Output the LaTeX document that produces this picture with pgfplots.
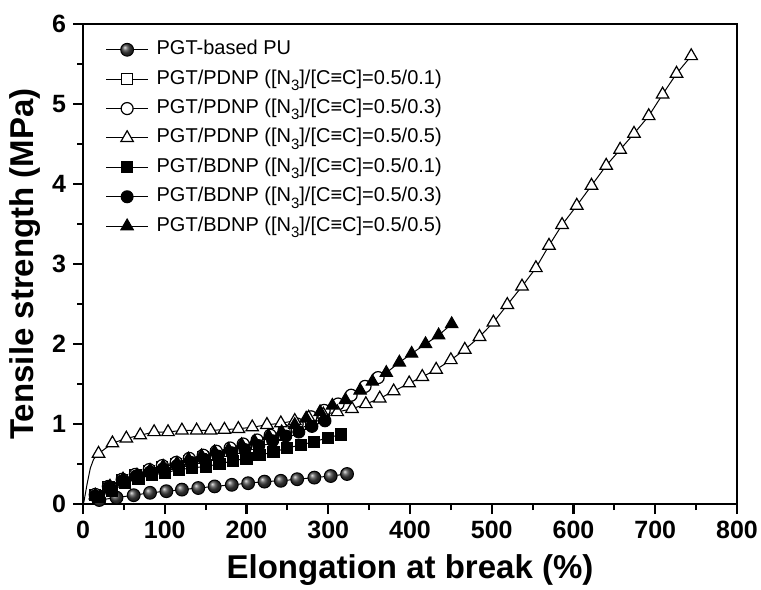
\documentclass[border=0pt]{standalone}
\usepackage{fontspec}
\setmainfont{Liberation Sans}
\usepackage{pgfplots}
\pgfplotsset{compat=1.18}
\newcommand{\sub}{\raisebox{-0.6ex}{\fontsize{7.5}{8}\selectfont 3}}
\begin{document}
\begin{tikzpicture}
\begin{axis}[
  name=ax,
  width=327pt, height=240pt, scale only axis,
  xmin=0, xmax=800, ymin=0, ymax=6,
  xtick={0,100,...,800}, ytick={0,1,...,6},
  minor x tick num=1, minor y tick num=1,
  tick align=outside, xtick pos=left, ytick pos=left,
  major tick length=5pt, minor tick length=3pt,
  axis line style={line width=1.3pt},
  every major tick/.style={black, line width=1.1pt},
  every minor tick/.style={black, line width=1.1pt},
  tick label style={font=\fontsize{12.5}{14}\selectfont\bfseries},
  /pgf/number format/assume math mode=true,
  xlabel={Elongation at break (\%)},
  ylabel={Tensile strength (MPa)},
  label style={font=\fontsize{16.5}{19}\selectfont\bfseries},
  xlabel style={at={(axis description cs:0.5,-0.137)}, anchor=center},
  ylabel style={at={(axis description cs:-0.089,0.5)}, anchor=center},
  legend cell align=left,
  legend style={draw=none, fill=none, inner sep=0pt, row sep=4.7pt, column sep=4pt,
    at={(axis description cs:0.034,0.968)}, anchor=north west,
    font=\fontsize{10}{12}\selectfont,
    nodes={inner sep=0pt, text height=7.5pt, text depth=2.5pt}},
  legend image code/.code={\draw[mark repeat=2,mark phase=2,#1] plot coordinates {(0pt,0pt) (10.5pt,0pt) (21pt,0pt)};},
]
% PGT-based PU
\addplot[black, line width=0.5pt, mark=ball, mark size=3.2pt, mark options={ball color=black!75}] coordinates {
(20,0.05)(41,0.08)(62,0.11)(82,0.14)(102,0.16)(121,0.18)(141,0.20)(161,0.22)(182,0.24)(202,0.26)(222,0.28)(242,0.29)(262,0.31)(283,0.33)(303,0.35)(323,0.375)};
\addlegendentry{PGT-based PU}
% PGT/PDNP 0.5/0.1 (open squares)
\addplot[black, line width=0.5pt, mark=square*, mark size=2.8pt, mark options={fill=white, line width=0.6pt}] coordinates {
(15,0.11)(31,0.21)(48,0.30)(64,0.36)(81,0.41)(97,0.46)(114,0.50)(130,0.54)(147,0.58)(163,0.62)(180,0.66)(196,0.70)(213,0.75)(229,0.81)(246,0.87)(262,0.93)(279,1.00)(295,1.08)};
\addlegendentry{PGT/PDNP ([N\sub]/[C≡C]=0.5/0.1)}
% PGT/PDNP 0.5/0.3 (open circles)
\addplot[black, line width=0.5pt, mark=*, mark size=3pt, mark options={fill=white, line width=0.6pt}] coordinates {
(15,0.12)(31,0.22)(48,0.31)(64,0.37)(81,0.43)(97,0.48)(114,0.52)(130,0.57)(147,0.61)(163,0.66)(180,0.70)(196,0.75)(213,0.80)(229,0.86)(246,0.92)(262,1.00)(279,1.09)(295,1.17)(312,1.25)(328,1.36)(345,1.47)(361,1.58)};
\addlegendentry{PGT/PDNP ([N\sub]/[C≡C]=0.5/0.3)}
% PGT/PDNP 0.5/0.5 (open triangles)
\addplot[black, line width=0.5pt, forget plot] coordinates {(1,0.02)(5,0.25)(9,0.45)(13,0.56)(19,0.63)};
\addplot[black, line width=0.5pt, mark=triangle*, mark size=3.6pt, mark options={fill=white, line width=0.6pt}] coordinates {
(19,0.63)(36,0.76)(53,0.82)(70,0.86)(87,0.90)(104,0.90)(121,0.92)(139,0.92)(156,0.92)(173,0.93)(190,0.94)(207,0.96)(225,0.99)(242,1.01)(259,1.04)(276,1.08)(294,1.12)(311,1.15)(329,1.19)(346,1.25)(363,1.32)(380,1.41)(399,1.51)(415,1.59)(432,1.68)(450,1.80)(467,1.93)(485,2.09)(502,2.27)(519,2.49)(537,2.72)(554,2.95)(570,3.23)(586,3.49)(604,3.73)(622,3.98)(640,4.23)(657,4.43)(674,4.63)(692,4.85)(709,5.12)(726,5.38)(744,5.60)};
\addlegendentry{PGT/PDNP ([N\sub]/[C≡C]=0.5/0.5)}
% PGT/BDNP 0.5/0.1 (filled squares)
\addplot[black, line width=0.5pt, mark=square*, mark size=2.8pt] coordinates {
(19,0.09)(35,0.16)(51,0.26)(68,0.32)(84,0.36)(100,0.39)(117,0.43)(133,0.45)(150,0.47)(167,0.50)(183,0.54)(200,0.57)(216,0.61)(233,0.65)(250,0.70)(267,0.74)(283,0.78)(300,0.83)(316,0.87)};
\addlegendentry{PGT/BDNP ([N\sub]/[C≡C]=0.5/0.1)}
% PGT/BDNP 0.5/0.3 (filled circles)
\addplot[black, line width=0.5pt, mark=*, mark size=3pt] coordinates {
(15,0.10)(32,0.21)(48,0.29)(65,0.35)(82,0.40)(98,0.44)(115,0.48)(132,0.52)(148,0.56)(165,0.60)(182,0.64)(198,0.68)(215,0.73)(232,0.79)(248,0.85)(264,0.90)(280,0.97)(296,1.04)};
\addlegendentry{PGT/BDNP ([N\sub]/[C≡C]=0.5/0.3)}
% PGT/BDNP 0.5/0.5 (filled triangles)
\addplot[black, line width=0.5pt, mark=triangle*, mark size=3.6pt] coordinates {
(15,0.11)(33,0.22)(49,0.31)(66,0.36)(82,0.42)(98,0.47)(115,0.51)(129,0.56)(145,0.60)(161,0.65)(178,0.68)(194,0.74)(210,0.78)(227,0.85)(243,0.90)(259,0.99)(273,1.07)(290,1.15)(305,1.23)(321,1.30)(339,1.42)(354,1.53)(371,1.64)(387,1.77)(402,1.88)(419,2.00)(435,2.11)(451,2.25)};
\addlegendentry{PGT/BDNP ([N\sub]/[C≡C]=0.5/0.5)}
\end{axis}
\pgfresetboundingbox
\path (ax.south west) ++(-41.5pt,-42.5pt) coordinate (bl);
\path (ax.north east) ++(12pt,12pt) coordinate (tr);
\path[use as bounding box] (bl) rectangle (tr);
\end{tikzpicture}
\end{document}
